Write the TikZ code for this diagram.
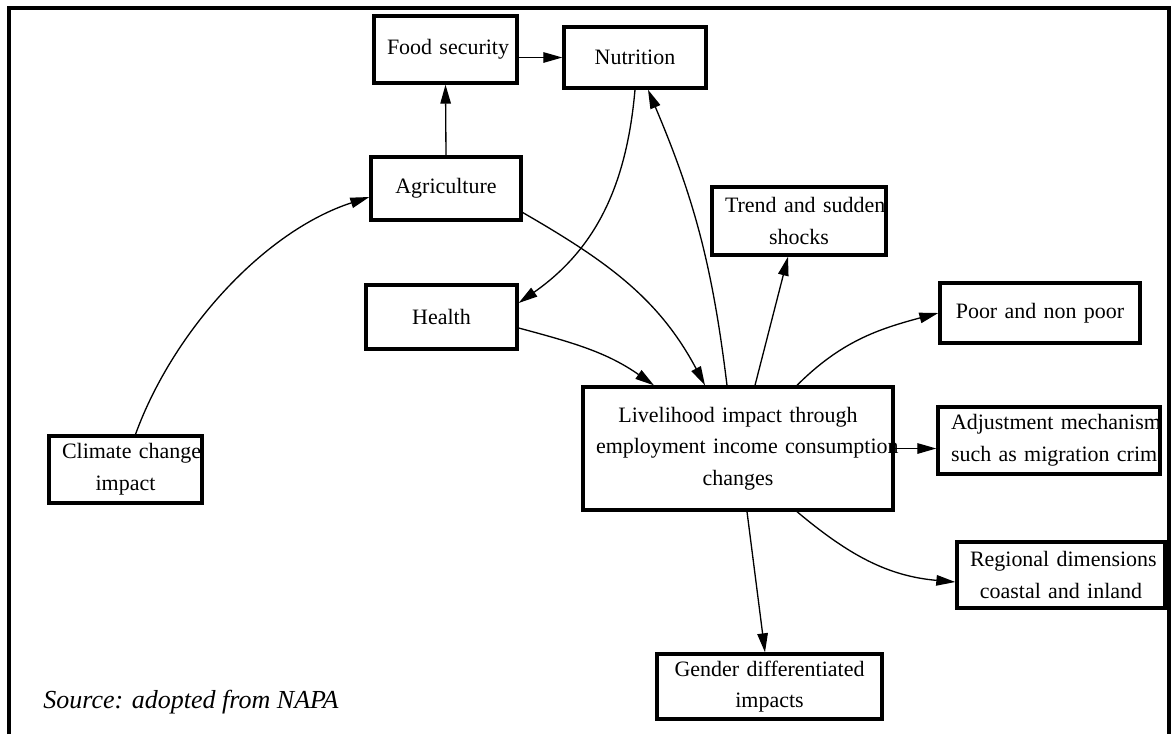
\documentclass[tikz,border=0pt]{standalone}
\usepackage{fontspec}
\setmainfont{Liberation Serif}
\usepackage{tikz}
\usetikzlibrary{positioning,
				arrows.meta}

\newcommand{\boxfont}{\fontsize{12.5}{18}\selectfont\hyphenpenalty=10000 \hbadness=10000 \hfuzz=100pt }

\begin{document}
\begin{tikzpicture}[
  box/.style={draw, line width=1.9pt, inner xsep=0.26cm, inner ysep=0pt, align=center, font=\boxfont},
  link/.style={-{Triangle[length=3.8mm,width=2.1mm]}, line width=0.75pt}]
  \useasboundingbox (0,0) rectangle (23.52,-14.68);
  \draw[line width=1.8pt](0.18,-14.68)--(0.18,-0.16)--(23.38,-0.16)--(23.38,-14.68);

  \node[box, text width=2.34cm, minimum height=1.34cm] (foodsec) at (8.91,-0.99) {Food~security};
  \node[box, text width=2.32cm, minimum height=1.22cm] (nutrition) at (12.70,-1.15) {Nutrition};
  \node[box, text width=2.48cm, minimum height=1.26cm] (agri) at (8.92,-3.77) {Agriculture};
  \node[box, text width=2.50cm, minimum height=1.28cm] (health) at (8.83,-6.34) {Health};
  \node[box, text width=2.54cm, minimum height=1.34cm] (climate) at (2.51,-9.39) {Climate~change\\impact};
  \node[box, text width=5.68cm, minimum height=2.46cm] (live) at (14.76,-8.97) {Livelihood impact through\\employment~income~consumption\\changes};
  \node[box, text width=2.96cm, minimum height=1.36cm] (trend) at (15.98,-4.42) {Trend~and~sudden\\shocks};
  \node[box, text width=3.48cm, minimum height=1.20cm] (poor) at (20.80,-6.26) {Poor and non poor};
  \node[box, text width=3.92cm, minimum height=1.34cm] (adjust) at (20.98,-8.81) {Adjustment~mechanism\\such~as~migration~crim};
  \node[box, text width=3.64cm, minimum height=1.32cm] (regional) at (21.22,-11.50) {Regional~dimensions\\coastal and inland};
  \node[box, text width=3.98cm, minimum height=1.30cm] (gender) at (15.39,-13.73) {Gender~differentiated\\impacts};
  \node[anchor=base west, inner sep=0pt, font=\fontsize{14.8}{17}\selectfont\itshape] (source) at (0.86,-14.16) {Source: adopted from NAPA};

  \draw[link]([xshift=0.2cm]climate.north) to[out=70,in=198,looseness=0.85] ([yshift=-0.17cm]agri.west);
  \draw[link](agri.north)--(foodsec.south);
  \draw[link](foodsec.east |- nutrition.west)--(nutrition.west);
  \draw[link](nutrition.south) to[out=-95,in=35] ([yshift=0.28cm]health.east);
  \draw[link]([xshift=-0.22cm]live.north) to[bend right=8] ([xshift=0.26cm]nutrition.south);
  \draw[link]([yshift=-0.48cm]agri.east) to[out=-30,in=118] ([xshift=-0.66cm]live.north);
  \draw[link]([yshift=-0.22cm]health.east) to[out=-15,in=145] ([xshift=-1.68cm]live.north);
  \draw[link]([xshift=0.34cm]live.north)--([xshift=-0.22cm]trend.south);
  \draw[link]([xshift=1.18cm]live.north) to[out=45,in=195] (poor.west);
  \draw[link](live.east)--(live.east -| adjust.west);
  \draw[link]([xshift=1.18cm]live.south) to[out=-40,in=175] ([yshift=-0.14cm]regional.west);
  \draw[link]([xshift=0.18cm]live.south)--([xshift=-0.09cm]gender.north);
\end{tikzpicture}
\end{document}
